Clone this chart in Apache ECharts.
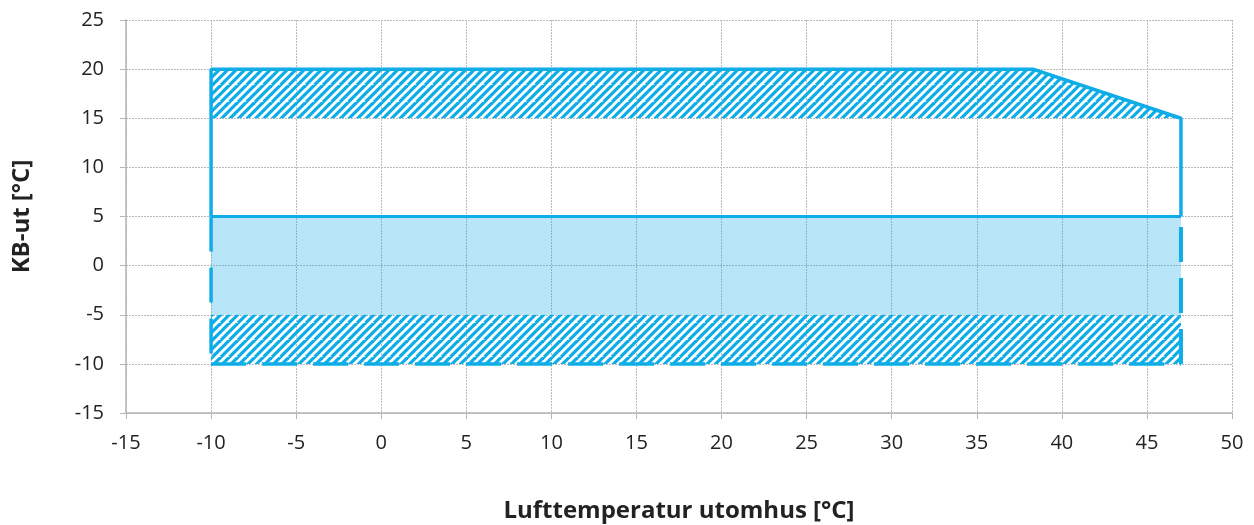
<!DOCTYPE html>
<html>
<head>
<meta charset="utf-8">
<script src="https://cdn.jsdelivr.net/npm/echarts@6/dist/echarts.min.js"></script>
<style>
  html, body { margin: 0; padding: 0; background: #fff; }
  #chart { width: 1254px; height: 525px; }
</style>
</head>
<body>
<div id="chart"></div>
<script>
// operating envelope, [outdoor temp, KB-ut]
var hatchTop = [[-10, 15], [-10, 20], [38.3, 20], [47, 15]];
var coolBand = [[-10, -5], [-10, 5], [47, 5], [47, -5]];
var hatchBottom = [[-10, -10], [-10, -5], [47, -5], [47, -10]];

var solidEdge = [[-10, 5], [-10, 20], [38.3, 20], [47, 15], [47, 5]];
var midLine = [[-10, 5], [47, 5]];
var dashLeft = [[-10, 5], [-10, -10]];
var dashBottom = [[-10, -10], [47, -10]];
var dashRight = [[47, -10], [47, 5]];

var xTicks = [-15, 50, 5];
var yTicks = [-15, 25, 5];

var blue = '#0EADE8';

// diagonal stripe tile, "/" direction
function makeHatch() {
    var T = 17, P = 8.5;
    var c = document.createElement('canvas');
    c.width = T; c.height = T;
    var ctx = c.getContext('2d');
    ctx.strokeStyle = blue;
    ctx.lineWidth = 3.2;
    for (var k = -2; k <= 6; k++) {
        var s = k * P;
        ctx.beginPath();
        ctx.moveTo(s + T, -T);
        ctx.lineTo(s - T, T);
        ctx.stroke();
    }
    return c;
}
var hatch = makeHatch();

var chart = echarts.init(document.getElementById('chart'));

function polySeries(data, fill, z) {
    return {
        type: 'custom',
        z: z,
        silent: true,
        data: [0],
        renderItem: function (params, api) {
            var pts = data.map(function (p) { return api.coord(p); });
            return {
                type: 'polygon',
                shape: { points: pts },
                style: { fill: fill, stroke: null }
            };
        }
    };
}

function lineSeries(data, width, dash) {
    return {
        type: 'line',
        z: 5,
        silent: true,
        symbol: 'none',
        data: data,
        lineStyle: { color: blue, width: width, type: dash || 'solid', cap: 'butt' }
    };
}

var labelFont = { color: '#222', fontSize: 20, fontFamily: 'Open Sans' };
var nameFont = { color: '#222', fontSize: 24, fontWeight: 'bold', fontFamily: 'Open Sans' };

chart.setOption({
    animation: false,
    grid: { left: 126, right: 22, top: 20, bottom: 112, containLabel: false, outerBoundsMode: 'none' },
    xAxis: {
        type: 'value',
        min: xTicks[0], max: xTicks[1], interval: xTicks[2],
        name: 'Lufttemperatur utomhus [°C]',
        nameLocation: 'middle',
        nameGap: 86,
        nameTextStyle: nameFont,
        axisLine: { onZero: false, lineStyle: { color: '#b5b5b5', width: 1.5 } },
        axisTick: { show: true, length: 6, lineStyle: { color: '#b5b5b5' } },
        axisLabel: Object.assign({ margin: 20 }, labelFont),
        splitLine: { show: true, lineStyle: { color: '#bbb', type: [2, 1], width: 1 } }
    },
    yAxis: {
        type: 'value',
        min: yTicks[0], max: yTicks[1], interval: yTicks[2],
        name: 'KB-ut [°C]',
        nameLocation: 'middle',
        nameGap: 92,
        nameRotate: 90,
        nameTextStyle: nameFont,
        axisLine: { show: true, onZero: false, lineStyle: { color: '#b5b5b5', width: 1.5 } },
        axisTick: { show: true, length: 6, lineStyle: { color: '#b5b5b5' } },
        axisLabel: Object.assign({ margin: 22 }, labelFont),
        splitLine: { show: true, lineStyle: { color: '#bbb', type: [2, 1], width: 1 } }
    },
    series: [
        polySeries(coolBand, 'rgba(0,160,230,0.28)', 1),
        polySeries(hatchTop, { image: hatch, repeat: 'repeat' }, 1),
        polySeries(hatchBottom, { image: hatch, repeat: 'repeat' }, 1),
        lineSeries(solidEdge, 3.5),
        lineSeries(midLine, 3),
        lineSeries(dashLeft, 3.5, [35, 16]),
        lineSeries(dashBottom, 3.5, [35, 16]),
        lineSeries(dashRight, 4, [35, 16])
    ]
});
</script>
</body>
</html>
